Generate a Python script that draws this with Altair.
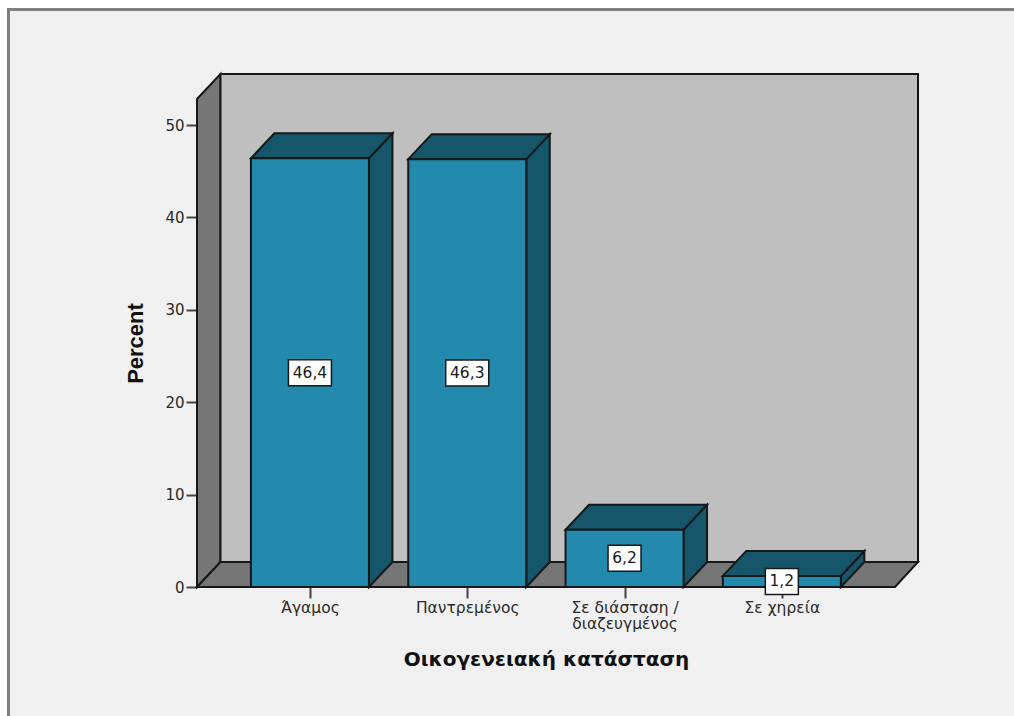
import json
import altair as alt
import pandas as pd

# Values and labels of the bar chart
categories = ["Άγαμος", "Παντρεμένος", "Σε διάσταση / διαζευγμένος", "Σε χηρεία"]
axis_lines = [["Άγαμος"], ["Παντρεμένος"], ["Σε διάσταση /", "διαζευγμένος"], ["Σε χηρεία"]]
percent = [46.4, 46.3, 6.2, 1.2]
value_labels = ["46,4", "46,3", "6,2", "1,2"]
y_ticks = [0, 10, 20, 30, 40, 50]

# Plot geometry, in pixels
PLOT_W, PLOT_H = 721, 513
PAD_L, PAD_T = 197, 74
PAD_R, PAD_B = 1014 - PAD_L - PLOT_W, 716 - PAD_T - PLOT_H
PX_PER_SLOT = 157.3
PX_PER_PCT = 9.24

# The same geometry in data units: x in category slots, y in percent
X_MAX = PLOT_W / PX_PER_SLOT
Y_MAX = PLOT_H / PX_PER_PCT
DX = 23.5 / PX_PER_SLOT
DY = 25 / PX_PER_PCT
FIRST = 0.718
HALF = 59 / PX_PER_SLOT
FLOOR_W = 698 / PX_PER_SLOT

WALL = "#bfbfbf"
SHADE = "#767676"
FRONT = "#2389ad"
DARK = "#16566a"
LINE = "#14181a"
PAGE = "#f0f0f0"
FONT = "DejaVu Sans"
BOLD_FONT = "Liberation Sans"

x_scale = alt.Scale(domain=[0, X_MAX], nice=False, zero=False)
y_scale = alt.Scale(domain=[0, Y_MAX], nice=False, zero=False)
centres = [FIRST + i for i in range(len(categories))]

lines_json = json.dumps(axis_lines, ensure_ascii=False)
x_axis = alt.Axis(
    values=centres, labelExpr=f"{lines_json}[round(datum.value - {FIRST})]",
    title="Οικογενειακή κατάσταση", titleFont=FONT, titleFontSize=20, titleFontWeight="bold",
    titleColor="#111", titleX=349, titleY=62, titleAnchor="middle", titleAlign="center",
    labelFont=FONT, labelFontSize=15.5, labelColor="#2a2a2a", labelLineHeight=16.5,
    labelPadding=2, labelOverlap=False, labelFlush=False, labelBound=False,
    tickSize=11, tickWidth=2, tickColor="#444", domain=False, grid=False,
)
y_axis = alt.Axis(
    values=y_ticks, title="Percent", titleFont=BOLD_FONT, titleFontSize=22, titleFontWeight="bold",
    titleColor="#111", titleX=-50, titleY=269, titleAnchor="middle", titleAlign="center",
    labelFont=FONT, labelFontSize=15, labelColor="#2a2a2a", labelPadding=2,
    tickSize=11, tickWidth=2, tickColor="#444", domain=False, grid=False,
)
X = alt.X("x:Q", scale=x_scale, axis=x_axis)
Y = alt.Y("y:Q", scale=y_scale, axis=y_axis)


def x_plain():
    return alt.X("x:Q", scale=x_scale)


def y_plain():
    return alt.Y("y:Q", scale=y_scale)


def tall_face(rows, fill):
    """Face whose left and right edges are vertical, as two x stops with a y span each."""
    return alt.Chart(pd.DataFrame(rows)).mark_area(
        orient="vertical", fill=fill, stroke=LINE, strokeWidth=2, clip=False, opacity=1
    ).encode(x=x_plain(), y=y_plain(), y2="y2:Q", detail="id:N")


def flat_face(rows, fill):
    """Face whose front and back edges are horizontal, as two y stops with an x span each."""
    return alt.Chart(pd.DataFrame(rows)).mark_area(
        orient="horizontal", fill=fill, stroke=LINE, strokeWidth=2, clip=False, opacity=1
    ).encode(x=x_plain(), x2="x2:Q", y=y_plain(), detail="id:N")


def box(rows, fill, width=2):
    return alt.Chart(pd.DataFrame(rows)).mark_rect(
        fill=fill, stroke=LINE, strokeWidth=width, clip=False
    ).encode(x=x_plain(), x2="x2:Q", y=y_plain(), y2="y2:Q")


# Page: white margin and thin frame around the grey chart area
def page_strip(x0, x1, y0, y1, colour):
    return alt.Chart(pd.DataFrame({"k": [0]})).mark_rect(fill=colour).encode(
        x=alt.value(x0 - PAD_L), x2=alt.value(x1 - PAD_L),
        y=alt.value(y0 - PAD_T), y2=alt.value(y1 - PAD_T),
    )


page = [
    page_strip(0, 1014, 0, 8, "#ffffff"),
    page_strip(0, 7, 0, 716, "#ffffff"),
    page_strip(7, 1014, 8, 11, "#7f7f7f"),
    page_strip(7, 10, 8, 716, "#7f7f7f"),
]

# Axis layer carries the ticks and titles; it has no visible marks of its own
axes = alt.Chart(pd.DataFrame({"x": [0.0], "y": [0.0]})).mark_point(opacity=0).encode(x=X, y=Y)

# Chart box: left wall, back wall, floor
left_wall = tall_face(
    [{"id": "w", "x": 0, "y": 0, "y2": Y_MAX - DY}, {"id": "w", "x": DX, "y": DY, "y2": Y_MAX}], SHADE
)
back_wall = box([{"x": DX, "x2": X_MAX, "y": DY, "y2": Y_MAX}], WALL)
floor = flat_face(
    [{"id": "f", "y": 0, "x": 0, "x2": FLOOR_W}, {"id": "f", "y": DY, "x": DX, "x2": X_MAX}], SHADE
)

# Bars: side and top faces behind the front face
side_rows, top_rows, front_rows, label_rows, tag_rows = [], [], [], [], []
for i, (c, v, t) in enumerate(zip(centres, percent, value_labels)):
    left, right = c - HALF, c + HALF
    side_rows += [
        {"id": i, "x": right, "y": 0, "y2": v},
        {"id": i, "x": right + DX, "y": DY, "y2": v + DY},
    ]
    top_rows += [
        {"id": i, "y": v, "x": left, "x2": right},
        {"id": i, "y": v + DY, "x": left + DX, "x2": right + DX},
    ]
    front_rows.append({"x": left, "x2": right, "y": 0, "y2": v})
    half_w = (10 * len(t) + 3) / 2 / PX_PER_SLOT
    tag_rows.append({"x": c - half_w, "x2": c + half_w, "y": v / 2 - 13 / PX_PER_PCT, "y2": v / 2 + 13 / PX_PER_PCT})
    label_rows.append({"x": c, "y": v / 2, "t": t})

sides = tall_face(side_rows, DARK)
tops = flat_face(top_rows, DARK)
fronts = box(front_rows, FRONT)
tags = box(tag_rows, "#ffffff", 1.5)
labels = alt.Chart(pd.DataFrame(label_rows)).mark_text(
    font=FONT, fontSize=15.5, color="#1a1a1a", baseline="middle", align="center", clip=False
).encode(x=x_plain(), y=y_plain(), text="t:N")

chart = alt.layer(
    axes, *page, left_wall, back_wall, floor, sides, tops, fronts, tags, labels
).properties(
    width=PLOT_W, height=PLOT_H, background=PAGE,
    autosize=alt.AutoSizeParams(type="none"),
    padding={"left": PAD_L, "top": PAD_T, "right": PAD_R, "bottom": PAD_B},
).configure_view(stroke=None)

chart.save("out.html", embed_options={"renderer": "svg", "actions": False})
